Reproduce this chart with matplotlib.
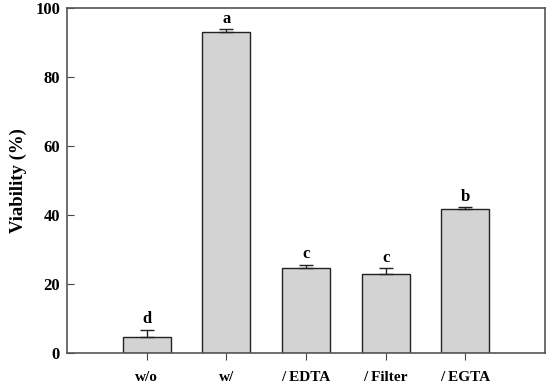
import matplotlib.pyplot as plt

categories = ["w/o", "w/", "/ EDTA", "/ Filter", "/ EGTA"]
viability = [4.6, 93.0, 24.6, 22.9, 41.7]
errors = [2.0, 0.8, 1.0, 1.6, 0.5]
letters = ["d", "a", "c", "c", "b"]

plt.rcParams['font.family'] = ['Liberation Serif', 'DejaVu Serif']
plt.rcParams['font.weight'] = 'bold'

fig = plt.figure(figsize=(5.5, 3.84), dpi=100)
ax = fig.add_axes([67 / 550, 1 - 353 / 384, (545 - 67) / 550, (353 - 8) / 384])

x = range(len(categories))
ax.bar(x, viability, width=0.6, color='#d3d3d3', edgecolor='#222222', linewidth=1.0,
       yerr=[[0] * len(errors), errors], error_kw=dict(ecolor='#222222', elinewidth=1.0,
                                                       capsize=5, capthick=1.0))
for i, (v, e, l) in enumerate(zip(viability, errors, letters)):
    ax.text(i, v + e + 0.8, l, ha='center', va='bottom', fontsize=12, fontweight='bold')

ax.set_xlim(-1, 5)
ax.set_ylim(0, 100)
ax.set_xticks(list(x))
ax.set_xticklabels(categories, fontsize=11, fontweight='bold')
ax.set_yticks([0, 20, 40, 60, 80, 100])
ax.tick_params(axis='y', labelsize=12, direction='in', length=5, color='#444444', pad=5)
ax.tick_params(axis='x', direction='out', length=5, color='#444444', pad=8)
for lbl in ax.get_yticklabels():
    lbl.set_fontweight('bold')
ax.set_ylabel("Viability (%)", fontsize=13.5, fontweight='bold', labelpad=6)
for s in ax.spines.values():
    s.set_color('#555555')
    s.set_linewidth(1.2)

fig.savefig("out.png", dpi=100)
